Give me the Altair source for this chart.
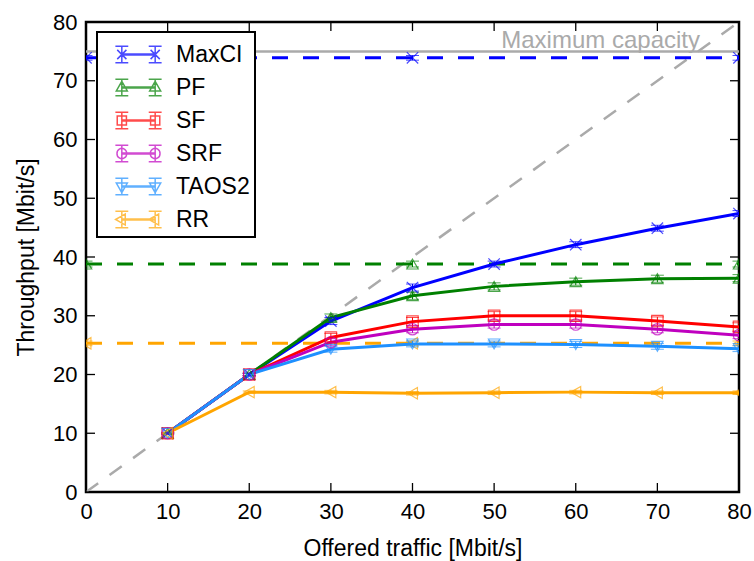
import altair as alt
import pandas as pd

# ---------------- data ----------------
offered = [10, 20, 30, 40, 50, 60, 70, 80]
series = ["MaxCI", "PF", "SF", "SRF", "TAOS2", "RR"]
colors = ["#0000ff", "#008000", "#ff0000", "#bf00bf", "#1e90ff", "#ffa500"]

maxci = [10.0, 20.0, 29.1, 34.8, 38.8, 42.1, 44.9, 47.4]
pf = [10.0, 20.0, 29.7, 33.4, 35.0, 35.8, 36.3, 36.4]
sf = [10.0, 20.0, 26.3, 29.0, 30.0, 30.0, 29.1, 28.1]
srf = [10.0, 20.0, 25.5, 27.7, 28.5, 28.5, 27.7, 26.7]
taos2 = [10.0, 20.0, 24.3, 25.2, 25.2, 25.1, 24.8, 24.4]
rr = [10.0, 17.0, 17.0, 16.8, 16.9, 17.0, 16.9, 16.9]

err_maxci = [0.1, 0.2, 0.6, 0.6, 0.5, 0.5, 0.5, 0.5]
err_pf = [0.1, 0.2, 0.6, 0.6, 0.6, 0.6, 0.6, 0.6]
err_sf = [0.1, 0.2, 0.7, 0.7, 0.7, 0.7, 0.7, 0.7]
err_srf = [0.1, 0.2, 0.6, 0.6, 0.6, 0.6, 0.6, 0.6]
err_taos2 = [0.1, 0.2, 0.5, 0.5, 0.5, 0.5, 0.5, 0.5]
err_rr = [0.1, 0.2, 0.3, 0.3, 0.3, 0.3, 0.3, 0.3]

bound_x = [0, 40, 80]
bound_series = ["MaxCI", "PF", "RR"]
bound_values = [73.9, 38.8, 25.3]
bound_err = [0.4, 0.5, 0.4]

capacity = 75
capacity_label = "Maximum capacity"
diag_x = [0, 80]
diag_y = [0, 80]
tick_values = [0, 10, 20, 30, 40, 50, 60, 70, 80]

# ---------------- tables ----------------
values = [maxci, pf, sf, srf, taos2, rr]
errs = [err_maxci, err_pf, err_sf, err_srf, err_taos2, err_rr]
rows = []
for s, vals, es in zip(series, values, errs):
    for x, v, e in zip(offered, vals, es):
        rows.append({"scheme": s, "x": x, "y": v, "lo": v - e, "hi": v + e})
main_df = pd.DataFrame(rows)

brows = []
for s, v, e in zip(bound_series, bound_values, bound_err):
    for x in bound_x:
        brows.append({"scheme": s, "x": x, "y": v, "lo": v - e, "hi": v + e})
bound_df = pd.DataFrame(brows)

diag_df = pd.DataFrame({"x": diag_x, "y": diag_y})
cap_df = pd.DataFrame({"x": [diag_x[0]], "x2": [diag_x[1]], "y": [capacity], "label": [capacity_label]})
xt_df = pd.DataFrame({"x": tick_values})
yt_df = pd.DataFrame({"y": tick_values})

FONT = "Liberation Sans"
W, H = 653, 470
DOM = alt.Scale(domain=[0, 80], nice=False)

x_enc = alt.X("x:Q", scale=DOM,
              axis=alt.Axis(values=tick_values, title="Offered traffic [Mbit/s]", grid=False,
                            ticks=False, domain=False, labelFlush=False, labelOverlap=False,
                            labelPadding=9, labelFontSize=22, titleFontSize=23, titlePadding=15,
                            labelFont=FONT, titleFont=FONT, titleFontWeight="normal",
                            labelColor="black", titleColor="black"))
y_enc = alt.Y("y:Q", scale=DOM,
              axis=alt.Axis(values=tick_values, title="Throughput [Mbit/s]", grid=False,
                            ticks=False, domain=False, labelOverlap=False,
                            labelPadding=9, labelFontSize=22, titleFontSize=23, titlePadding=14,
                            labelFont=FONT, titleFont=FONT, titleFontWeight="normal",
                            labelColor="black", titleColor="black"))

color_scale = alt.Scale(domain=series, range=colors)
color_nolegend = alt.Color("scheme:N", scale=color_scale, legend=None)

marker_shapes = ["M-1,-1L1,1M-1,1L1,-1", "triangle-up", "square", "circle", "triangle-down", "triangle-left"]

# legend glyph: line + two markers with error caps, in units of the legend symbol box
K = 23 / 16.5


def legend_path(marker):
    def p(v):
        return f"{v * K:.3f}"
    parts = [f"M{p(-0.725)},{p(-0.025)}L{p(0.725)},{p(-0.025)}L{p(0.725)},{p(0.025)}L{p(-0.725)},{p(0.025)}Z"]
    for x0 in (-0.725, 0.725):
        parts.append(f"M{p(x0-0.28)},{p(-0.36)}L{p(x0+0.28)},{p(-0.36)}")
        parts.append(f"M{p(x0-0.28)},{p(0.36)}L{p(x0+0.28)},{p(0.36)}")
        parts.append(f"M{p(x0)},{p(-0.36)}L{p(x0)},{p(0.36)}")
        if marker == "x":
            parts.append(f"M{p(x0-0.2)},{p(-0.2)}L{p(x0+0.2)},{p(0.2)}M{p(x0-0.2)},{p(0.2)}L{p(x0+0.2)},{p(-0.2)}")
        elif marker == "up":
            parts.append(f"M{p(x0)},{p(-0.27)}L{p(x0+0.24)},{p(0.15)}L{p(x0-0.24)},{p(0.15)}Z")
        elif marker == "square":
            parts.append(f"M{p(x0-0.2)},{p(-0.2)}L{p(x0+0.2)},{p(-0.2)}L{p(x0+0.2)},{p(0.2)}L{p(x0-0.2)},{p(0.2)}Z")
        elif marker == "circle":
            r = p(0.21)
            parts.append(f"M{p(x0-0.21)},0A{r},{r},0,1,0,{p(x0+0.21)},0A{r},{r},0,1,0,{p(x0-0.21)},0Z")
        elif marker == "down":
            parts.append(f"M{p(x0)},{p(0.27)}L{p(x0+0.24)},{p(-0.15)}L{p(x0-0.24)},{p(-0.15)}Z")
        elif marker == "left":
            parts.append(f"M{p(x0-0.27)},0L{p(x0+0.15)},{p(-0.24)}L{p(x0+0.15)},{p(0.24)}Z")
    return "".join(parts)


legend_shapes = [legend_path(m) for m in ["x", "up", "square", "circle", "down", "left"]]

# ---------------- layers ----------------
diag = alt.Chart(diag_df).mark_line(color="#aaaaaa", strokeWidth=2.5, strokeDash=[15, 14], clip=True).encode(
    x=x_enc, y=y_enc)

cap_line = alt.Chart(cap_df).mark_rule(color="#aaaaaa", strokeWidth=2.5).encode(
    x=x_enc, x2="x2:Q", y=y_enc)
cap_text = alt.Chart(cap_df).mark_text(align="right", baseline="alphabetic", fontSize=24, font=FONT,
                                       color="#aaaaaa", dx=-39, dy=-3).encode(
    x=alt.X("x2:Q", scale=DOM), y=y_enc, text="label:N")

bound_line = alt.Chart(bound_df).mark_line(strokeWidth=3, strokeDash=[16, 15], clip=True).encode(
    x=x_enc, y=y_enc, color=color_nolegend, detail="scheme:N")
bound_err_rule = alt.Chart(bound_df).mark_rule(strokeWidth=1, clip=True).encode(
    x=x_enc, y=alt.Y("lo:Q", scale=DOM), y2="hi:Q", color=color_nolegend)
bound_cap_lo = alt.Chart(bound_df).mark_tick(orient="horizontal", size=13, thickness=1, clip=True).encode(
    x=x_enc, y=alt.Y("lo:Q", scale=DOM), color=color_nolegend)
bound_cap_hi = alt.Chart(bound_df).mark_tick(orient="horizontal", size=13, thickness=1, clip=True).encode(
    x=x_enc, y=alt.Y("hi:Q", scale=DOM), color=color_nolegend)
bound_pts = alt.Chart(bound_df).mark_point(filled=False, size=130, strokeWidth=1.2, clip=True).encode(
    x=x_enc, y=y_enc, color=color_nolegend,
    shape=alt.Shape("scheme:N", scale=alt.Scale(domain=series, range=marker_shapes), legend=None))

lines = alt.Chart(main_df).mark_line(strokeWidth=3, clip=True).encode(
    x=x_enc, y=y_enc, color=color_nolegend, detail="scheme:N")
err_rule = alt.Chart(main_df).mark_rule(strokeWidth=1, clip=True).encode(
    x=x_enc, y=alt.Y("lo:Q", scale=DOM), y2="hi:Q", color=color_nolegend)
cap_lo = alt.Chart(main_df).mark_tick(orient="horizontal", size=13, thickness=1, clip=True).encode(
    x=x_enc, y=alt.Y("lo:Q", scale=DOM), color=color_nolegend)
cap_hi = alt.Chart(main_df).mark_tick(orient="horizontal", size=13, thickness=1, clip=True).encode(
    x=x_enc, y=alt.Y("hi:Q", scale=DOM), color=color_nolegend)
pts = alt.Chart(main_df).mark_point(filled=False, size=130, strokeWidth=1.2, clip=True).encode(
    x=x_enc, y=y_enc, color=color_nolegend,
    shape=alt.Shape("scheme:N", scale=alt.Scale(domain=series, range=marker_shapes), legend=None))

tick_bottom = alt.Chart(xt_df).mark_rule(color="black", strokeWidth=1.3).encode(
    x=x_enc, y=alt.value(H), y2=alt.value(H - 9))
tick_top = alt.Chart(xt_df).mark_rule(color="black", strokeWidth=1.3).encode(
    x=x_enc, y=alt.value(0), y2=alt.value(9))
tick_left = alt.Chart(yt_df).mark_rule(color="black", strokeWidth=1.3).encode(
    y=y_enc, x=alt.value(0), x2=alt.value(9))
tick_right = alt.Chart(yt_df).mark_rule(color="black", strokeWidth=1.3).encode(
    y=y_enc, x=alt.value(W), x2=alt.value(W - 9))

legend_def = alt.Legend(title=None, orient="none", legendX=11, legendY=10, fillColor="white",
                        strokeColor="black", padding=5, symbolSize=1089, symbolStrokeWidth=1.5,
                        symbolOffset=19, labelFontSize=23, labelFont=FONT, labelColor="black",
                        labelOffset=20, rowPadding=3, cornerRadius=0)
legend_layer = alt.Chart(main_df).transform_filter("false").mark_point(filled=False).encode(
    x=x_enc, y=y_enc,
    color=alt.Color("scheme:N", scale=color_scale, legend=legend_def),
    shape=alt.Shape("scheme:N", scale=alt.Scale(domain=series, range=legend_shapes), legend=legend_def))

chart = alt.layer(
    diag, cap_line, cap_text,
    bound_line, bound_err_rule, bound_cap_lo, bound_cap_hi, bound_pts,
    lines, err_rule, cap_lo, cap_hi, pts,
    tick_bottom, tick_top, tick_left, tick_right,
    legend_layer,
).resolve_scale(color="independent", shape="independent").properties(
    width=W, height=H,
    autosize=alt.AutoSizeParams(type="none"),
    padding={"left": 86, "top": 22, "right": 15, "bottom": 69},
    background="white",
).configure_view(stroke="black", strokeWidth=2.5).configure_legend(strokeWidth=2)

chart.save("out.html", embed_options={"renderer": "svg", "actions": False})
